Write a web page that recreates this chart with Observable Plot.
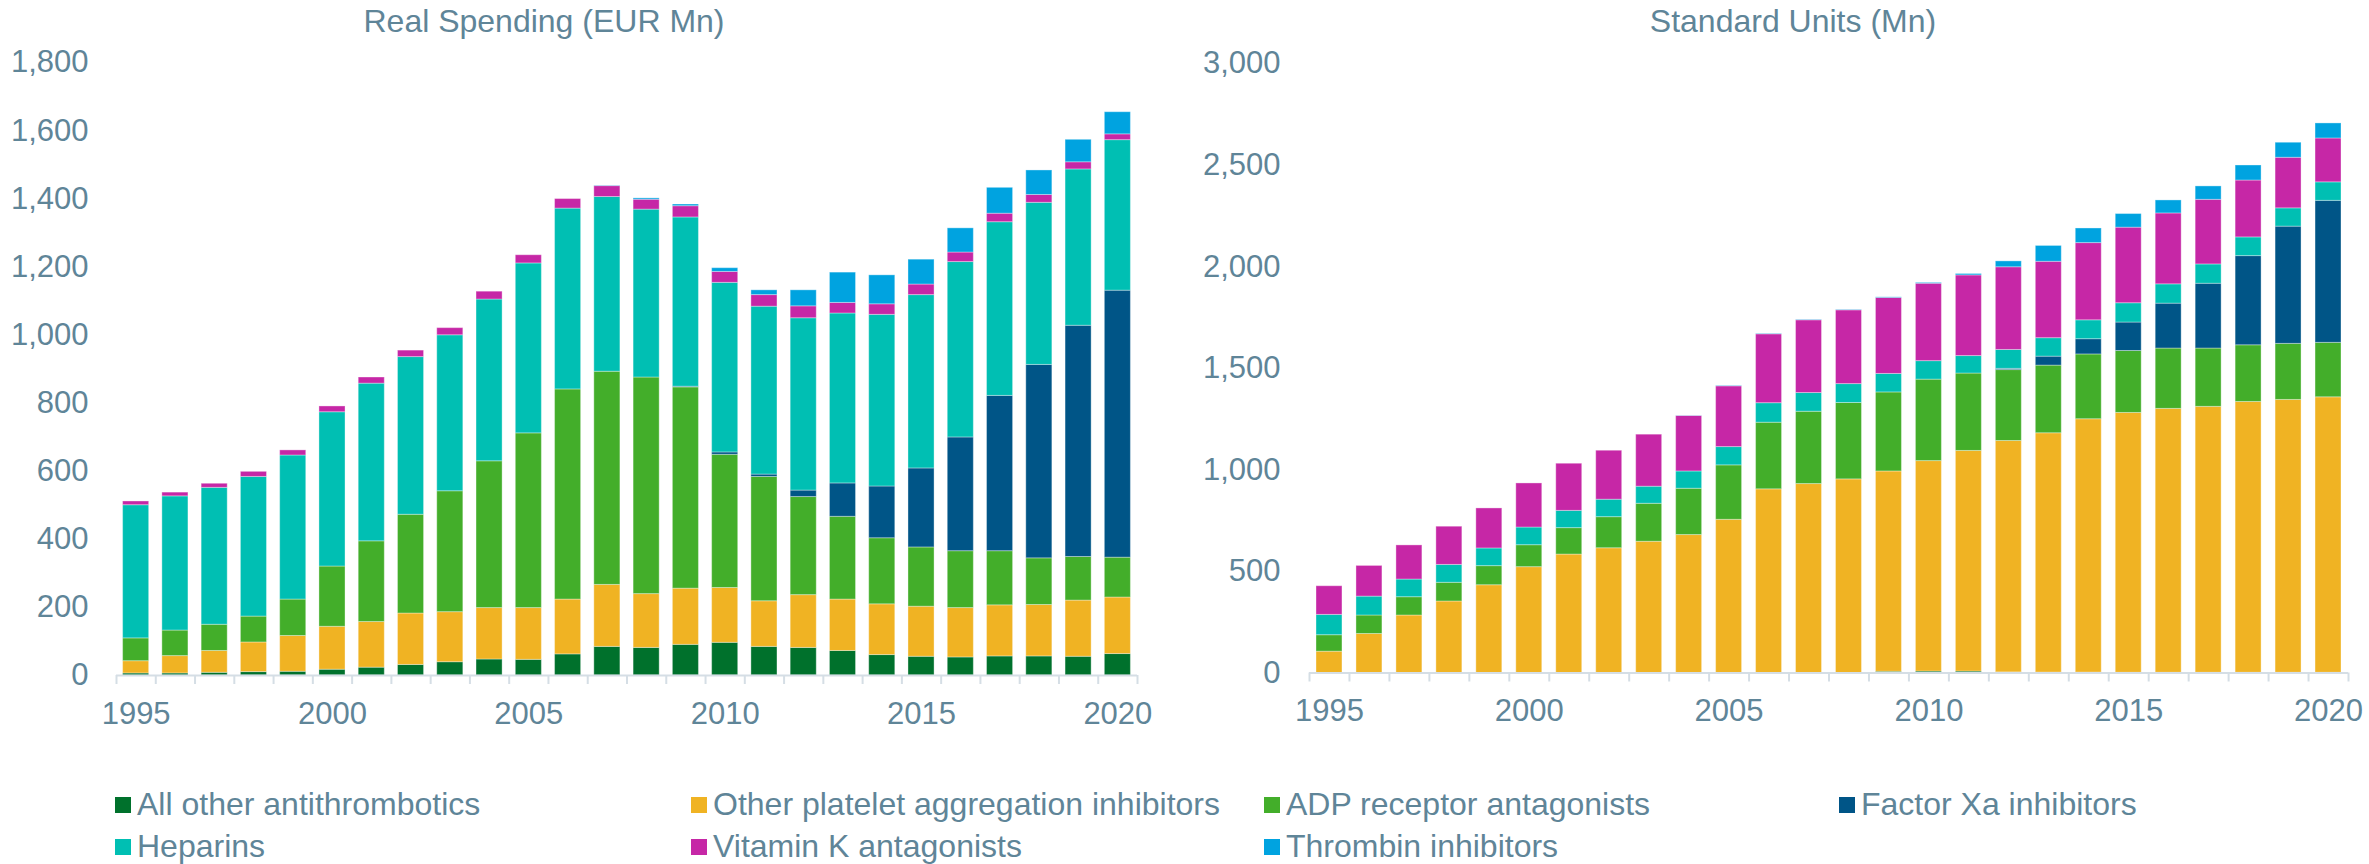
<!DOCTYPE html>
<html>
<head>
<meta charset="utf-8">
<script src="https://cdn.jsdelivr.net/npm/d3@7"></script>
<script src="https://cdn.jsdelivr.net/npm/@observablehq/plot@0.6"></script>
<style>
  html, body { margin: 0; padding: 0; background: #ffffff; }
  #page {
    position: relative; width: 2369px; height: 864px; overflow: hidden;
    font-family: "Liberation Sans", Arial, sans-serif; color: #5f8598;
  }
  .panel { position: absolute; top: 0; }
  .title {
    position: absolute; top: 5px; font-size: 32px; line-height: 32px;
    white-space: nowrap; transform: translateX(-50%);
  }
  .swatch { position: absolute; width: 16px; height: 16px; }
  .label { position: absolute; font-size: 32px; line-height: 32px; white-space: nowrap; }
</style>
</head>
<body>
<div id="page"></div>
<script>
// Years on the x axis
const years = d3.range(1995, 2021);
const labelYears = [1995, 2000, 2005, 2010, 2015, 2020];

// Drug classes, bottom of the stack first
const seriesNames = [
  "All other antithrombotics",
  "Other platelet aggregation inhibitors",
  "ADP receptor antagonists",
  "Factor Xa inhibitors",
  "Heparins",
  "Vitamin K antagonists",
  "Thrombin inhibitors"
];
const seriesColors = ["#00712c", "#f0b323", "#43ae2a", "#005587", "#00bfb3", "#c627a6", "#00a3e0"];

// Real spending, EUR Mn
const spendAllOther   = [6, 6, 8, 10, 11, 17, 23, 31, 39, 47, 46, 62, 84, 81, 90, 96, 84, 81, 72, 60, 55, 53, 56, 56, 55, 63];
const spendPlatelet   = [36, 51, 64, 87, 105, 126, 134, 151, 147, 151, 152, 161, 182, 158, 165, 161, 134, 155, 151, 149, 147, 145, 150, 151, 165, 166];
const spendADP        = [67, 75, 77, 76, 107, 177, 237, 290, 355, 431, 513, 617, 626, 636, 591, 391, 365, 288, 243, 194, 174, 167, 159, 137, 128, 117];
const spendFactorXa   = [0, 0, 0, 0, 0, 0, 0, 0, 0, 0, 0, 0, 0, 0, 2, 7, 7, 19, 98, 152, 232, 334, 456, 568, 679, 784];
const spendHeparins   = [391, 394, 402, 410, 423, 453, 463, 463, 458, 475, 499, 531, 513, 493, 497, 498, 493, 506, 499, 504, 509, 515, 510, 476, 459, 442];
const spendVitaminK   = [11, 11, 12, 15, 15, 17, 18, 19, 21, 23, 24, 28, 32, 29, 33, 32, 34, 35, 31, 31, 31, 28, 25, 23, 21, 17];
const spendThrombin   = [0, 0, 0, 0, 0, 0, 0, 0, 0, 0, 0, 0, 1, 4, 5, 11, 14, 47, 89, 85, 73, 71, 76, 72, 66, 65];

// Standard units, Mn
const unitsAllOther   = [0, 0, 0, 0, 0, 0, 0, 0, 0, 0, 0, 0, 0, 0, 6, 7, 7, 3, 2, 2, 1, 1, 1, 1, 1, 1];
const unitsPlatelet   = [105, 192, 283, 352, 432, 521, 583, 614, 646, 679, 754, 904, 930, 953, 986, 1036, 1086, 1139, 1178, 1247, 1279, 1299, 1309, 1333, 1343, 1356];
const unitsADP        = [81, 91, 90, 92, 94, 108, 130, 153, 187, 228, 268, 328, 356, 376, 389, 401, 381, 349, 333, 319, 305, 297, 287, 279, 276, 268];
const unitsFactorXa   = [0, 0, 0, 0, 0, 0, 0, 0, 0, 0, 0, 0, 0, 0, 0, 0, 0, 6, 44, 75, 140, 221, 319, 439, 577, 699];
const unitsHeparins   = [100, 93, 87, 88, 87, 87, 85, 86, 84, 85, 90, 96, 92, 93, 91, 91, 86, 93, 91, 93, 95, 95, 95, 92, 90, 91];
const unitsVitaminK   = [141, 151, 168, 188, 197, 217, 232, 241, 256, 273, 299, 339, 358, 363, 374, 381, 397, 407, 376, 380, 372, 349, 318, 280, 249, 216];
const unitsThrombin   = [0, 0, 0, 0, 0, 0, 0, 0, 0, 1, 2, 2, 2, 2, 3, 4, 7, 29, 78, 72, 67, 64, 66, 74, 74, 74];

const textColor = "#5f8598";
const axisColor = "#d5dee5";
const fontFamily = "'Liberation Sans', Arial, sans-serif";

function toRows(seriesValues) {
  const rows = [];
  seriesNames.forEach((name, i) => {
    seriesValues[i].forEach((v, j) => rows.push({year: years[j], series: name, value: v}));
  });
  return rows;
}

function stackedPanel({rows, yMax, yStep, width, height, marginLeft, marginRight, marginTop, marginBottom, inset, yPad, xPad}) {
  const first = years[0], last = years[years.length - 1];
  return Plot.plot({
    width, height, marginLeft, marginRight, marginTop, marginBottom,
    style: {fontFamily, fontSize: "31px", color: textColor, background: "transparent", overflow: "visible"},
    x: {type: "linear", domain: [first, last + 1], axis: null},
    y: {domain: [0, yMax], axis: null},
    color: {domain: seriesNames, range: seriesColors},
    marks: [
      Plot.rect(rows, Plot.stackY({
        x1: "year", x2: d => d.year + 1, y: "value", fill: "series",
        order: seriesNames, insetLeft: inset, insetRight: inset,
        stroke: "#ffffff", strokeOpacity: 0.35, strokeWidth: 1
      })),
      Plot.ruleY([0], {stroke: axisColor, strokeWidth: 2}),
      // short ticks separating the yearly bars
      Plot.axisX({ticks: d3.range(first, last + 2), tickSize: 9, tickFormat: () => "", label: null, stroke: axisColor, strokeWidth: 2}),
      // year labels centred under their bars
      Plot.axisX({ticks: labelYears.map(y => y + 0.5), tickSize: 0, tickPadding: xPad, label: null, tickFormat: d => String(d - 0.5)}),
      Plot.axisY({ticks: d3.range(0, yMax + 1, yStep), tickSize: 0, tickPadding: yPad, label: null, tickFormat: d3.format(",")})
    ]
  });
}

const page = document.getElementById("page");

const spending = stackedPanel({
  rows: toRows([spendAllOther, spendPlatelet, spendADP, spendFactorXa, spendHeparins, spendVitaminK, spendThrombin]),
  yMax: 1800, yStep: 200,
  width: 1150, height: 740, marginLeft: 116, marginRight: 13, marginTop: 62, marginBottom: 65,
  inset: 6.6, yPad: 28, xPad: 26
});
spending.classList.add("panel");
spending.style.left = "0px";
page.appendChild(spending);

const units = stackedPanel({
  rows: toRows([unitsAllOther, unitsPlatelet, unitsADP, unitsFactorXa, unitsHeparins, unitsVitaminK, unitsThrombin]),
  yMax: 3000, yStep: 500,
  width: 1189, height: 740, marginLeft: 129, marginRight: 21, marginTop: 63, marginBottom: 67.5,
  inset: 7, yPad: 29, xPad: 26
});
units.classList.add("panel");
units.style.left = "1180px";
page.appendChild(units);

// Panel titles
[["Real Spending (EUR Mn)", 544], ["Standard Units (Mn)", 1793]].forEach(([text, cx]) => {
  const t = document.createElement("div");
  t.className = "title";
  t.textContent = text;
  t.style.left = cx + "px";
  page.appendChild(t);
});

// Legend: four columns, two rows
const legendCols = [115, 691, 1264, 1839];
const legendRows = [815, 857]; // text baselines
seriesNames.forEach((name, i) => {
  const col = i % 4, row = Math.floor(i / 4);
  const sw = document.createElement("div");
  sw.className = "swatch";
  sw.style.background = seriesColors[i];
  sw.style.left = legendCols[col] + "px";
  sw.style.top = (legendRows[row] - 18) + "px";
  page.appendChild(sw);
  const lb = document.createElement("div");
  lb.className = "label";
  lb.textContent = name;
  lb.style.left = (legendCols[col] + 22) + "px";
  lb.style.top = (legendRows[row] - 27) + "px";
  page.appendChild(lb);
});
</script>
</body>
</html>
